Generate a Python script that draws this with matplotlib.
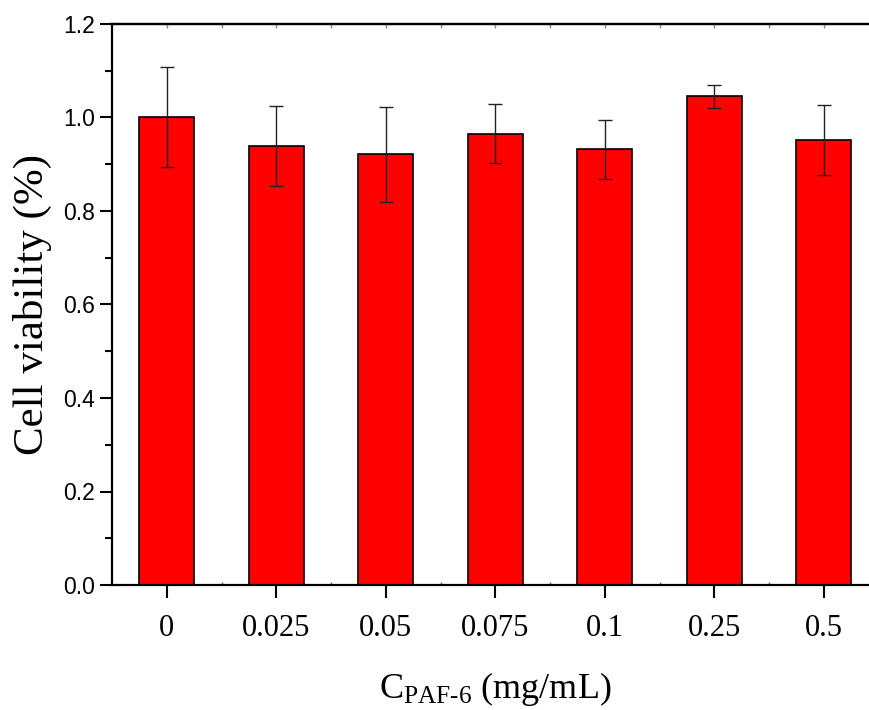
import numpy as np
import matplotlib
matplotlib.use("Agg")
import matplotlib.pyplot as plt
from matplotlib.ticker import MultipleLocator, FixedLocator

plt.rcParams['font.family'] = ['Liberation Serif', 'DejaVu Serif']
plt.rcParams['mathtext.fontset'] = 'custom'
plt.rcParams['mathtext.rm'] = 'Liberation Serif'
plt.rcParams['mathtext.it'] = 'Liberation Serif:italic'

# data
concentrations = ['0', '0.025', '0.05', '0.075', '0.1', '0.25', '0.5']
viability = [1.001, 0.939, 0.921, 0.965, 0.932, 1.045, 0.952]
viability_err = [0.107, 0.085, 0.101, 0.063, 0.063, 0.024, 0.075]

fig = plt.figure(figsize=(8.69, 7.10), dpi=100)
ax = fig.add_axes([112 / 869, 125 / 710, 766.5 / 869, 561 / 710])

x = np.arange(len(concentrations))
ax.bar(x, viability, width=0.5, color='#ff0000', edgecolor='black', linewidth=1.2,
       yerr=viability_err, capsize=5,
       error_kw=dict(ecolor='#222222', elinewidth=1.0, capthick=1.0))

ax.set_xlim(-0.5, 6.5)
ax.set_ylim(0, 1.2)

ax.set_xticks(x)
ax.set_xticklabels(concentrations, fontsize=22)
ax.xaxis.set_minor_locator(FixedLocator(x[:-1] + 0.5))
ax.yaxis.set_major_locator(MultipleLocator(0.2))
ax.yaxis.set_minor_locator(MultipleLocator(0.1))
ax.set_yticklabels([f'{v:.1f}' for v in ax.get_yticks()],
                   family='Liberation Sans', fontsize=16.5)

ax.tick_params(axis='x', which='major', direction='out', length=9, width=1.5, pad=12)
ax.tick_params(axis='x', which='minor', direction='in', length=2, width=1.0, color='#666666')
ax.tick_params(axis='y', which='major', direction='out', length=9, width=1.5, pad=3)
ax.tick_params(axis='y', which='minor', direction='out', length=5, width=1.5)

for s in ['left', 'bottom', 'top']:
    ax.spines[s].set_linewidth(1.6)
ax.spines['right'].set_visible(False)

# small inward ticks along the top frame
top = ax.secondary_xaxis('top')
top.set_xticks(np.arange(0, 7, 0.5))
top.set_xticklabels([])
top.tick_params(direction='in', length=3, width=1.0, color='#888888')
top.spines['top'].set_linewidth(1.6)

ax.set_ylabel('Cell viability (%)', fontsize=31)
ax.yaxis.set_label_coords(-0.078, 0.5)
ax.set_xlabel(r'$\mathrm{C}_{\mathrm{PAF\text{-}6}}$ (mg/mL)', fontsize=26, labelpad=19)

fig.savefig('out.png', dpi=100)
